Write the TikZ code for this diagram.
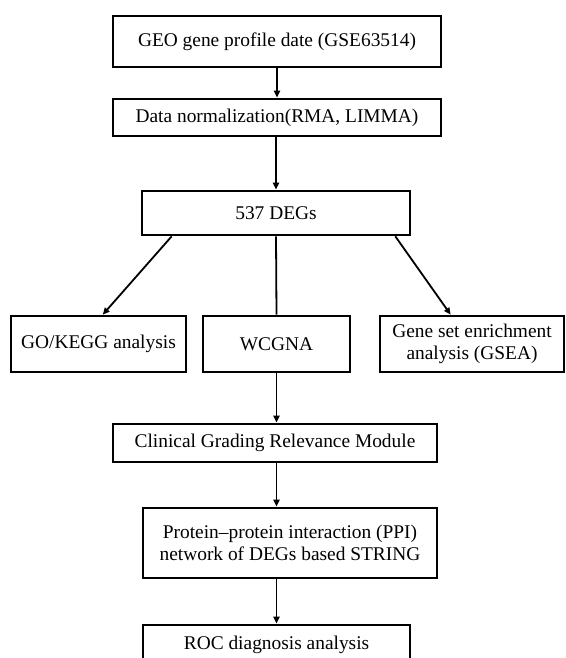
\documentclass[tikz,border=0pt]{standalone}
\usepackage{fontspec}
\setmainfont{Liberation Serif}
\usetikzlibrary{arrows.meta,calc}
\begin{document}
\begin{tikzpicture}[x=1pt,y=-1pt,
  box/.style={draw=black,line width=2.6pt,rectangle,inner sep=0pt,align=center,
    font=\fontsize{19.4}{22}\selectfont},
  conn/.style={line width=1.8pt,-{Triangle[length=7pt,width=6pt]}},
  plainconn/.style={line width=1.8pt}]
\useasboundingbox (0,0) rectangle (565,658);
\clip (0,0) rectangle (565,658);
\fill[white] (0,0) rectangle (565,658);
\node[box,minimum width=328pt,minimum height=51pt] (geo) at (277,41.5) {GEO gene profile date (GSE63514)};
\node[box,minimum width=328pt,minimum height=37pt] (norm) at (277,117.5) {Data normalization(RMA, LIMMA)};
\node[box,minimum width=268pt,minimum height=44pt] (deg) at (276,213) {537 DEGs};
\node[box,minimum width=175pt,minimum height=56pt] (go) at (98.5,344) {GO/KEGG analysis};
\node[box,minimum width=147pt,minimum height=56pt] (wc) at (276.5,344) {WCGNA};
\node[box,minimum width=184pt,minimum height=56pt] (gsea) at (472,344) {Gene set enrichment\\analysis (GSEA)};
\node[box,minimum width=324pt,minimum height=38pt] (cl) at (275,443) {Clinical Grading Relevance Module};
\node[box,minimum width=294pt,minimum height=70pt] (ppi) at (290,543) {Protein--protein interaction (PPI)\\network of DEGs based STRING};
\node[box,minimum width=267pt,minimum height=40pt] (roc) at (276.5,645) {ROC diagnosis analysis};
\draw[conn] (geo.south) -- (norm.north);
\draw[conn] (norm.south -| deg.north) -- (deg.north);
\draw[conn] ([xshift=31pt]deg.south west) -- ([xshift=93pt]go.north west);
\draw[plainconn] (deg.south) -- (wc.north);
\draw[conn] ([xshift=-16pt]deg.south east) -- ([xshift=72pt]gsea.north west);
\draw[conn] (wc.south) -- (wc.south |- cl.north);
\draw[conn] (wc.south |- cl.south) -- (wc.south |- ppi.north);
\draw[conn] (roc.north |- ppi.south) -- (roc.north);
\end{tikzpicture}
\end{document}
